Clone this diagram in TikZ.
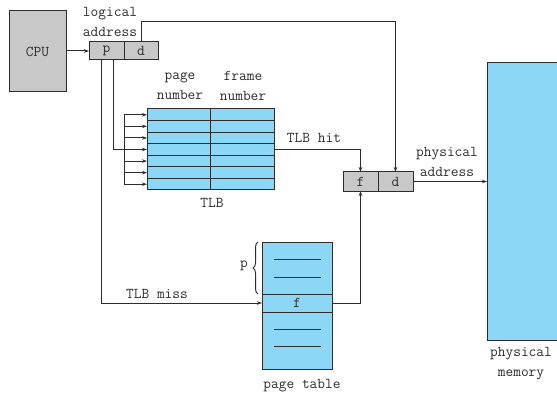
\documentclass[tikz,border=0pt]{standalone}
\usepackage{fontspec}
\setmonofont{Latin Modern Mono}
\usetikzlibrary{arrows.meta,decorations.pathreplacing}
\definecolor{memblue}{RGB}{141,215,246}
\definecolor{boxgray}{RGB}{200,200,200}
\definecolor{ln}{RGB}{45,45,45}
\begin{document}
\begin{tikzpicture}[x=1pt,y=-1pt,
  font=\fontsize{15}{20}\selectfont\ttfamily,
  every node/.style={inner sep=0pt, outer sep=0pt},
  gbox/.style={draw=ln, fill=boxgray, line width=1pt, anchor=north west},
  bbox/.style={draw=ln, fill=memblue, line width=1pt, anchor=north west},
  conn/.style={draw=ln, line width=1pt},
  arr/.style={conn, -{Stealth[length=5pt,width=3.5pt]}},
  lbl/.style={align=center, text=ln}]
\clip (0,0) rectangle (557,393);
\fill[white] (0,0) rectangle (557,393);
% CPU
\node[gbox, minimum width=57pt, minimum height=81pt] (cpu) at (9,11) {};
\node[lbl] (cputxt) at (cpu.center) {CPU};
% logical address
\node[gbox, minimum width=35pt, minimum height=18pt] (pbox) at (89,42) {};
\node[gbox, minimum width=34pt, minimum height=18pt] (dbox) at (124,42) {};
\node[lbl] (ptxt) at (pbox.center) {p};
\node[lbl] (dtxt) at (dbox.center) {d};
\node[lbl] (logaddr) at (110,22) {logical\\address};
% TLB
\foreach \i in {1,...,7}{
  \node[bbox, minimum width=63pt, minimum height=11.571pt] (tl\i) at (147,{109+(\i-1)*11.571}) {};
  \node[bbox, minimum width=64pt, minimum height=11.571pt] (tr\i) at (210,{109+(\i-1)*11.571}) {};
}
\node[lbl] (pnum) at (180,86) {page\\number};
\node[lbl] (fnum) at (243,86) {frame\\number};
\node[lbl] (tlbtxt) at (212,203) {TLB};
% physical address box
\node[gbox, minimum width=35pt, minimum height=19pt] (fbox) at (343,172) {};
\node[gbox, minimum width=35pt, minimum height=19pt] (dbox2) at (378,172) {};
\node[lbl] (ftxt) at (fbox.center) {f};
\node[lbl] (d2txt) at (dbox2.center) {d};
\node[lbl] (physaddr) at (447,162) {physical\\address};
% memory
\node[bbox, minimum width=90pt, minimum height=277pt] (mem) at (487,63) {};
\node[lbl] (memtxt) at (521,364) {physical\\memory};
% page table
\node[bbox, minimum width=70pt, minimum height=52pt] (pttop) at (262,242) {};
\node[bbox, minimum width=70pt, minimum height=18pt] (ptf) at (262,294) {};
\node[bbox, minimum width=70pt, minimum height=57pt] (ptbot) at (262,312) {};
\node[lbl] (pftxt) at (ptf.center) {f};
\foreach \yy in {259,277,329,346}{
  \draw[conn] (274,\yy) -- (321,\yy);
}
\node[lbl] (pttxt) at (302,386) {page table};
\draw[conn, decorate, decoration={brace, amplitude=5pt}] (258,294) -- (258,242);
\node[lbl] (pbrace) at (244,266) {p};
% connectors
\draw[arr] (cpu.east |- pbox.west) -- (pbox.west);
\coordinate (pa) at ([xshift=-5.5pt]pbox.south);
\coordinate (pb) at ([xshift=6.5pt]pbox.south);
\coordinate (bus) at (124,0);
\draw[conn] (pb) -- (pb |- tl4.west) -- (bus |- tl4.west);
\draw[conn] (bus |- tl1.west) -- (bus |- tl7.west);
\foreach \i in {1,...,7}{
  \draw[arr] (bus |- tl\i.west) -- (tl\i.west);
}
\draw[arr] (pa) -- (pa |- ptf.west) -- (ptf.west);
\node[lbl] (misstxt) at (157,294) {TLB miss};
\draw[arr] (tr4.east) -| (fbox.north);
\node[lbl] (hittxt) at (314,138) {TLB hit};
\draw[arr] (ptf.east) -| (fbox.south);
\draw[arr] (dbox.north) -- ++(0,-20) -| (dbox2.north);
\draw[arr] (dbox2.east) -- (mem.west |- dbox2.east);
\end{tikzpicture}
\end{document}
